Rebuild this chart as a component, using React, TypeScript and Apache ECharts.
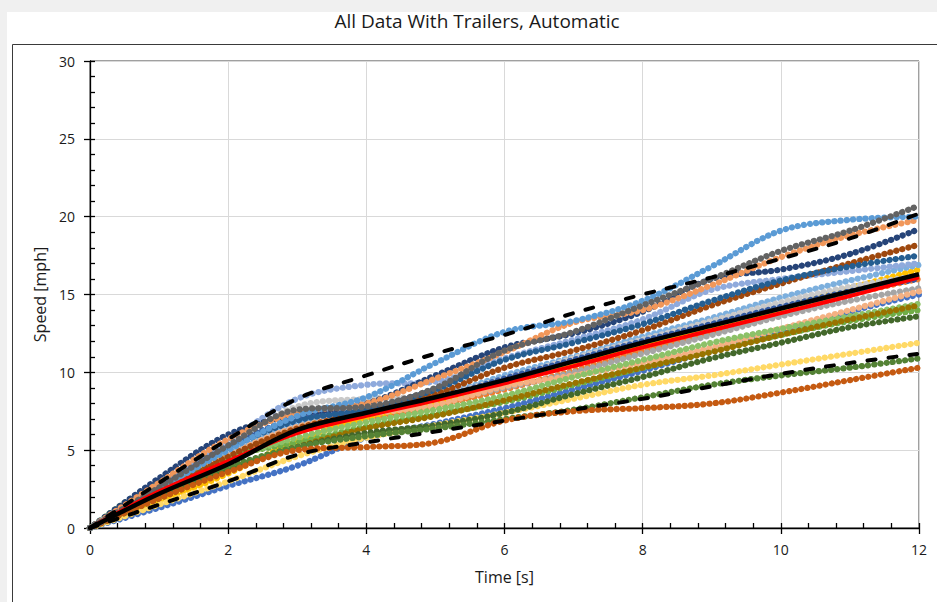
import React, { useEffect, useRef } from "react";
import * as echarts from "echarts";

// Time axis samples (s)
const time = [0, 1, 2, 3, 4, 5, 6, 7, 8, 9, 10, 11, 12];

// Individual test runs, speed in mph at each time sample
const runDarkGray = [0, 2.6, 5.3, 7.6, 7.8, 9.0, 11.4, 12.6, 14.3, 16.0, 17.8, 19.1, 20.7];
const runLightBlue = [0, 2.5, 5.0, 7.2, 8.4, 10.6, 12.6, 13.3, 14.6, 16.8, 19.1, 19.8, 20.0];
const runLightOrange = [0, 2.9, 5.7, 7.4, 8.0, 9.6, 11.3, 13.2, 14.0, 15.6, 17.4, 18.8, 19.8];
const runNavy = [0, 3.2, 6.0, 7.3, 8.0, 9.8, 11.6, 12.5, 13.9, 16.0, 16.6, 17.6, 19.2];
const runBrown = [0, 2.3, 4.6, 6.4, 7.4, 8.6, 10.3, 11.4, 12.7, 14.3, 15.7, 17.0, 18.2];
const runDarkBlue = [0, 2.6, 5.1, 6.9, 7.6, 8.9, 10.8, 11.9, 13.1, 14.6, 15.9, 16.8, 17.5];
const runPeriwinkle = [0, 2.9, 5.6, 8.3, 9.2, 9.4, 10.9, 12.1, 13.4, 15.3, 16.0, 16.5, 17.0];
const runGold = [0, 1.7, 3.5, 5.6, 7.1, 8.1, 9.3, 10.5, 11.7, 12.9, 14.1, 15.4, 16.6];
const runGray = [0, 2.2, 4.6, 6.6, 7.6, 8.1, 9.0, 10.0, 11.2, 12.4, 13.6, 14.6, 15.4];
const runLightGray = [0, 2.7, 5.4, 7.8, 8.3, 8.5, 9.6, 10.9, 12.1, 13.3, 14.5, 15.5, 16.2];
const runBlue = [0, 1.3, 2.7, 4.0, 5.8, 6.7, 7.7, 8.9, 10.1, 11.4, 12.6, 13.9, 15.0];
const runDarkGold = [0, 1.9, 3.7, 5.2, 6.4, 7.2, 8.2, 9.3, 10.3, 11.3, 12.4, 13.4, 14.3];
const runGreen = [0, 3.0, 4.6, 5.5, 6.5, 7.3, 8.1, 9.2, 10.3, 11.4, 12.4, 13.3, 14.0];
const runDarkGreen = [0, 2.0, 3.8, 5.2, 6.1, 6.6, 7.4, 8.6, 9.7, 10.9, 11.9, 12.9, 13.6];
const runPaleGold = [0, 1.5, 3.0, 4.6, 5.8, 6.6, 7.4, 8.3, 9.2, 9.8, 10.5, 11.2, 11.9];
const runOlive = [0, 2.0, 3.9, 5.2, 5.9, 6.4, 7.0, 7.6, 8.4, 9.2, 9.8, 10.3, 10.9];
const runRust = [0, 1.9, 3.6, 5.0, 5.2, 5.5, 6.9, 7.5, 7.7, 8.0, 8.7, 9.5, 10.3];
const runOrange = [0, 2.3, 4.5, 6.2, 7.0, 7.8, 8.9, 10.1, 11.4, 12.6, 13.8, 15.0, 16.0];
const runSky = [0, 2.4, 4.8, 6.8, 7.5, 8.4, 9.8, 11.0, 12.3, 13.5, 14.8, 15.9, 16.9];
const runLightGreen = [0, 2.6, 4.4, 5.8, 6.8, 7.6, 8.5, 9.7, 10.8, 11.9, 12.8, 13.6, 14.4];
const runSteel = [0, 2.7, 5.3, 7.0, 7.5, 8.3, 9.6, 10.8, 12.0, 13.1, 14.2, 15.2, 16.0];
const runPeach = [0, 2.4, 4.7, 6.5, 7.3, 7.9, 9.1, 9.8, 10.6, 11.6, 12.8, 14.0, 15.2];

const runs = [
  runBlue, runOrange, runGray, runGold, runSky, runGreen,
  runLightGray, runPeach, runLightGreen, runPaleGold, runSteel,
  runDarkGold, runDarkGreen, runOlive, runRust, runPeriwinkle,
  runBrown, runDarkBlue, runNavy, runLightOrange, runLightBlue, runDarkGray,
];
const runColors = [
  "#4472C4", "#ED7D31", "#A5A5A5", "#FFC000", "#7CAFDD", "#70AD47",
  "#C9C9C9", "#F4B183", "#8CC168", "#FFD966", "#335AA1",
  "#997300", "#43682B", "#548235", "#C55A11", "#8FAADC",
  "#9E480E", "#255E91", "#264478", "#F1975A", "#5B9BD5", "#636363",
];

// Summary curves
const meanSpeed = [0, 2.2, 4.1, 6.3, 7.4, 8.4, 9.5, 10.7, 11.9, 13.0, 14.1, 15.2, 16.3];
const fitSpeed = [0, 2.35, 4.3, 6.1, 7.2, 8.2, 9.3, 10.4, 11.6, 12.7, 13.8, 14.9, 16.1];
const upperBand = [0, 2.9, 5.7, 8.3, 9.8, 11.2, 12.4, 13.8, 15.0, 16.1, 17.3, 18.6, 20.2];
const lowerBand = [0, 1.5, 3.0, 4.7, 5.5, 6.2, 6.9, 7.6, 8.3, 9.1, 9.9, 10.6, 11.2];

const FONT = "'Open Sans', 'Noto Sans', sans-serif";

const pairs = (vals: number[]) => time.map((t, i) => [t, vals[i]]);

export default function App() {
  const ref = useRef<HTMLDivElement>(null);

  useEffect(() => {
    if (!ref.current) return;
    const chart = echarts.init(ref.current, undefined, { renderer: "svg" });

    const runSeries = runs.map((vals, i) => ({
      type: "line",
      data: pairs(vals),
      smooth: 0.35,
      symbol: "none",
      silent: true,
      z: 2,
      lineStyle: { color: runColors[i], width: 6.2, type: [0.1, 6.1], cap: "round" },
    }));

    const axisLineStyle = { color: "#000", width: 1.3 };

    chart.setOption({
      animation: false,
      backgroundColor: "#f0f0f0",
      graphic: [
        { type: "rect", z: -10, shape: { x: 7, y: 12, width: 940, height: 600 }, style: { fill: "#ffffff" } },
        {
          type: "rect", z: -9,
          shape: { x: 12.5, y: 44.5, width: 940, height: 600 },
          style: { fill: "none", stroke: "#3a3a3a", lineWidth: 1 },
        },
        {
          type: "text", x: 477, y: 21,
          style: {
            text: "All Data With Trailers, Automatic",
            fontFamily: FONT, fontSize: 19, fill: "#1a1a1a",
            align: "center", verticalAlign: "middle",
          },
        },
      ],
      grid: {
        left: 90, right: 18, top: 61, bottom: 74,
        show: true, backgroundColor: "#ffffff", borderColor: "#404040", borderWidth: 1,
      },
      xAxis: [
        {
          type: "value", min: 0, max: 12, interval: 2, position: "bottom",
          axisLine: { show: true, onZero: false, lineStyle: axisLineStyle },
          axisTick: { show: true, inside: false, length: 6, lineStyle: axisLineStyle },
          axisLabel: { margin: 14, fontSize: 14, color: "#1a1a1a", fontFamily: FONT },
          splitLine: { show: true, lineStyle: { color: "#d9d9d9", width: 1 } },
          name: "Time [s]", nameLocation: "middle", nameGap: 41,
          nameTextStyle: { fontSize: 16, color: "#1a1a1a", fontFamily: FONT },
        },
        {
          type: "value", min: 0, max: 12, interval: 0.4, position: "bottom",
          axisLine: { show: false, onZero: false },
          axisTick: { show: true, inside: true, length: 5, lineStyle: axisLineStyle },
          axisLabel: { show: false },
          splitLine: { show: false },
        },
      ],
      yAxis: [
        {
          type: "value", min: 0, max: 30, interval: 5, position: "left",
          axisLine: { show: true, onZero: false, lineStyle: axisLineStyle },
          axisTick: { show: true, inside: false, length: 6, lineStyle: axisLineStyle },
          axisLabel: { margin: 15, fontSize: 14, color: "#1a1a1a", fontFamily: FONT },
          splitLine: { show: true, lineStyle: { color: "#d9d9d9", width: 1 } },
          name: "Speed [mph]", nameLocation: "middle", nameGap: 41,
          nameTextStyle: { fontSize: 16, color: "#1a1a1a", fontFamily: FONT },
        },
        {
          type: "value", min: 0, max: 30, interval: 1, position: "left",
          axisLine: { show: false, onZero: false },
          axisTick: { show: true, inside: true, length: 5, lineStyle: axisLineStyle },
          axisLabel: { show: false },
          splitLine: { show: false },
        },
      ],
      series: [
        ...runSeries,
        {
          type: "line", data: pairs(fitSpeed), smooth: 0.35, symbol: "none", silent: true, z: 3,
          lineStyle: { color: "#ff0000", width: 4 },
        },
        {
          type: "line", data: pairs(meanSpeed), smooth: 0.35, symbol: "none", silent: true, z: 4,
          lineStyle: { color: "#000000", width: 4.5 },
        },
        {
          type: "line", data: pairs(upperBand), smooth: 0.35, symbol: "none", silent: true, z: 4,
          lineStyle: { color: "#000000", width: 4, type: [8, 13], cap: "round" },
        },
        {
          type: "line", data: pairs(lowerBand), smooth: 0.35, symbol: "none", silent: true, z: 4,
          lineStyle: { color: "#000000", width: 4, type: [8, 13], cap: "round" },
        },
      ],
    });

    return () => chart.dispose();
  }, []);

  return (
    <div
      ref={ref}
      style={{ position: "fixed", left: 0, top: 0, width: 937, height: 602 }}
    />
  );
}
